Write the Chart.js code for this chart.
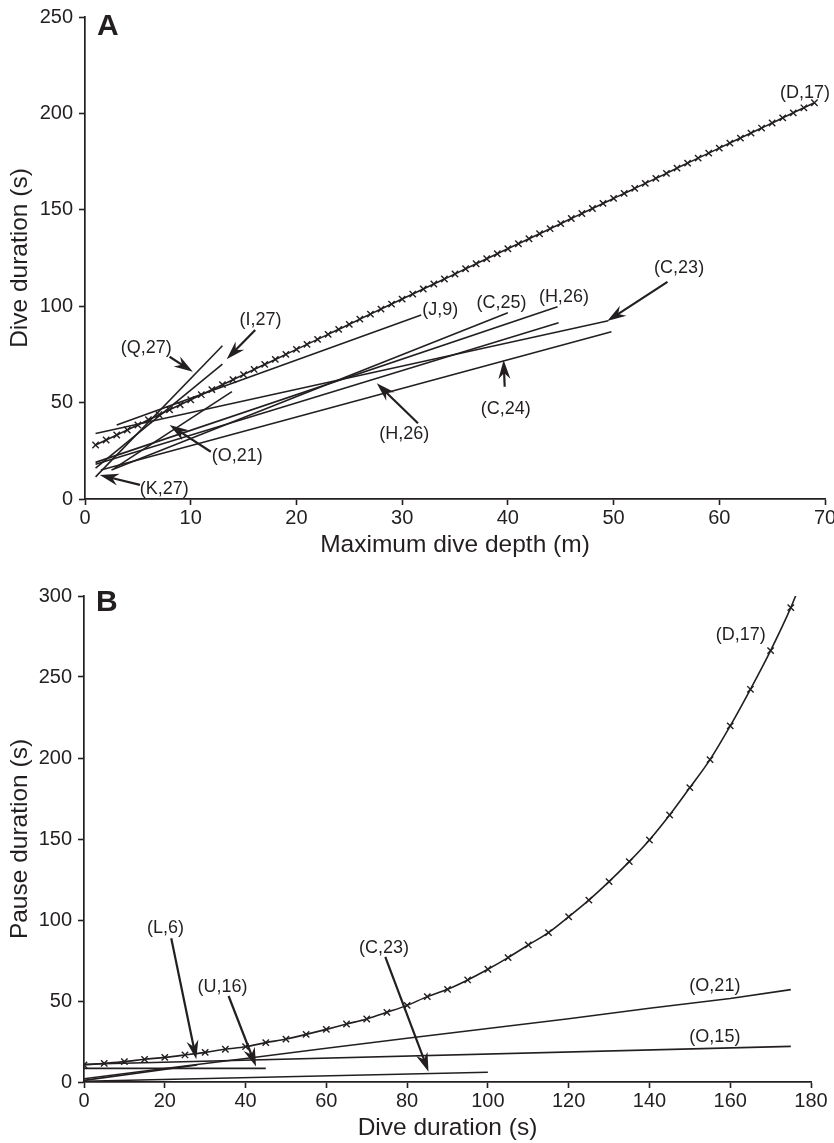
<!DOCTYPE html>
<html>
<head>
<meta charset="utf-8">
<script src="https://cdn.jsdelivr.net/npm/chart.js@4.4.0/dist/chart.umd.min.js"></script>
<style>
  body { margin: 0; background: #fff; }
  #wrapA { position: absolute; left: 0; top: 0; }
  #wrapB { position: absolute; left: 0; top: 575px; }
</style>
</head>
<body>
<div id="wrapA"><canvas id="chartA" width="834" height="560"></canvas></div>
<div id="wrapB"><canvas id="chartB" width="834" height="568"></canvas></div>
<script>
const ink = "#231f20";
const FONT = "'Liberation Sans', Arial, Helvetica, sans-serif";

// ---- Panel A: dive duration vs maximum dive depth ----
const depthD17 = [1, 2, 3, 4, 5, 6, 7, 8, 9, 10, 11, 12, 13, 14, 15, 16, 17, 18, 19, 20,
  21, 22, 23, 24, 25, 26, 27, 28, 29, 30, 31, 32, 33, 34, 35, 36, 37, 38, 39, 40,
  41, 42, 43, 44, 45, 46, 47, 48, 49, 50, 51, 52, 53, 54, 55, 56, 57, 58, 59, 60,
  61, 62, 63, 64, 65, 66, 67, 68, 69];
const durD17 = [28.0, 30.6, 33.2, 35.8, 38.4, 41.1, 43.7, 46.3, 48.9, 51.5, 54.1, 56.7, 59.3, 61.9,
  64.5, 67.2, 69.8, 72.4, 75.0, 77.6, 80.2, 82.8, 85.4, 88.0, 90.6, 93.3, 95.9, 98.5, 101.1,
  103.7, 106.3, 108.9, 111.5, 114.1, 116.7, 119.4, 122.0, 124.6, 127.2, 129.8, 132.4, 135.0,
  137.6, 140.2, 142.8, 145.5, 148.1, 150.7, 153.3, 155.9, 158.5, 161.1, 163.7, 166.3, 168.9,
  171.6, 174.2, 176.8, 179.4, 182.0, 184.6, 187.2, 189.8, 192.4, 195.0, 197.7, 200.3, 202.9, 205.5];

const depthJ9 = [3, 31.8];    const durJ9 = [38.4, 95.4];
const depthC23 = [1, 49.5];   const durC23 = [34, 92.5];
const depthC25 = [2.5, 40];   const durC25 = [15, 96.6];
const depthH26a = [1, 44.7];  const durH26a = [19, 99.7];
const depthH26b = [1, 44.8];  const durH26b = [18, 91.4];
const depthC24 = [1.5, 49.8]; const durC24 = [15, 86.8];
const depthQ27 = [1, 13];     const durQ27 = [11.5, 79.5];
const depthI27 = [1, 13];     const durI27 = [16, 70];
const depthO21 = [2.8, 13.9]; const durO21 = [16, 55.7];

const labelsA = [
  ["(D,17)", 68.1, 210.8], ["(I,27)", 16.6, 92.8], ["(Q,27)", 5.8, 78.2],
  ["(J,9)", 33.6, 98], ["(C,25)", 39.4, 101.9], ["(H,26)", 45.3, 104.9],
  ["(C,23)", 56.2, 119.8], ["(C,24)", 39.8, 46.7], ["(H,26)", 30.2, 33.7],
  ["(O,21)", 14.4, 22.3], ["(K,27)", 7.5, 5.2]
];
const arrowsA = [
  [16.1, 87.7, 13.4, 72.5], [8.0, 73.8, 10.2, 66], [55.1, 112.6, 49.4, 92.3],
  [39.7, 58.2, 39.6, 72.1], [31.5, 39.3, 27.6, 60], [11.9, 24.5, 8.0, 38.4],
  [5.2, 7.3, 1.4, 12.4]
];

// ---- Panel B: pause duration vs dive duration ----
const diveD17 = [0, 5, 10, 15, 20, 25, 30, 35, 40, 45, 50, 55, 60, 65, 70, 75, 80, 85, 90,
  95, 100, 105, 110, 115, 120, 125, 130, 135, 140, 145, 150, 155, 160, 165, 170, 175, 176.5];
const pauseD17 = [10.5, 11.5, 12.6, 14, 15.2, 16.7, 18.3, 20.2, 21.8, 24.3, 26.5, 29.4, 32.5,
  35.8, 38.9, 43, 47.3, 52.7, 57.2, 63, 69.6, 76.8, 84.6, 92.2, 102, 112.3, 123.7, 136, 149.4,
  164.8, 181.7, 199, 219.8, 242.4, 266.3, 292.8, 302];

const diveO21 = [0, 20, 40, 60, 80, 100, 120, 140, 160, 175];
const pauseO21 = [2, 8.3, 14.5, 20.8, 27, 33, 39, 45.5, 51.5, 57];
const diveO15 = [0, 175];  const pauseO15 = [11, 22];
const diveC23 = [0, 100];  const pauseC23 = [0.5, 6];
const diveU16 = [0, 45];   const pauseU16 = [8.4, 8.4];
const diveL6 = [0, 28];    const pauseL6 = [1, 10.5];

const labelsB = [
  ["(D,17)", 162.6, 275.9], ["(L,6)", 20.2, 94.9], ["(U,16)", 34.3, 58.8],
  ["(C,23)", 74.3, 82.7], ["(O,21)", 156.2, 59.3], ["(O,15)", 156.2, 27.8]
];
const arrowsB = [
  [21.6, 88.7, 27.8, 14], [35.8, 53.1, 42.6, 9.5], [74.6, 77.3, 85.3, 6.4]
];

function pts(xs, ys) {
  return xs.map((v, i) => ({ x: v, y: ys[i] }));
}

function plainLine(xs, ys) {
  return {
    data: pts(xs, ys), showLine: true, borderColor: ink, borderWidth: 1.6,
    pointRadius: 0, fill: false
  };
}

function markedLine(xs, ys, lastPlain, r0) {
  const r = xs.map((v, i) => (lastPlain && i === xs.length - 1 ? 0 : r0));
  return {
    data: pts(xs, ys), showLine: true, borderColor: ink, borderWidth: 1.6,
    pointStyle: "crossRot", pointRadius: r, pointBorderColor: ink,
    pointBorderWidth: 1.4, pointHoverRadius: 0, cubicInterpolationMode: "monotone"
  };
}

function axis(min, max, step, title, isY, size) {
  return {
    type: "linear", min: min, max: max,
    ticks: {
      stepSize: step, color: ink, font: { family: FONT, size: 20 },
      padding: isY ? 6 : 1, maxRotation: 0, autoSkip: false
    },
    grid: {
      display: true, drawOnChartArea: false, drawTicks: true,
      tickLength: 6, tickWidth: 1.6, tickColor: ink
    },
    border: { display: true, color: ink, width: 1.7 },
    title: {
      display: true, text: title, color: ink, font: { family: FONT, size: 24.5 },
      padding: isY ? { top: 6, bottom: 0 } : { top: 0, bottom: 0 }
    },
    afterFit(scale) {
      if (isY) scale.width = size; else scale.height = size;
      scale.paddingLeft = 0; scale.paddingRight = 0;
      scale.paddingTop = 0; scale.paddingBottom = 0;
    }
  };
}

function drawArrow(ctx, x1, y1, x2, y2) {
  const ang = Math.atan2(y2 - y1, x2 - x1);
  const c = Math.cos(ang), s = Math.sin(ang);
  const len = 19, half = 6;
  ctx.lineWidth = 2.2;
  ctx.beginPath();
  ctx.moveTo(x1, y1);
  ctx.lineTo(x2 - len * 0.6 * c, y2 - len * 0.6 * s);
  ctx.stroke();
  const bx = x2 - len * c, by = y2 - len * s;
  ctx.beginPath();
  ctx.moveTo(x2, y2);
  ctx.lineTo(bx - s * half, by + c * half);
  ctx.lineTo(x2 - len * 0.68 * c, y2 - len * 0.68 * s);
  ctx.lineTo(bx + s * half, by - c * half);
  ctx.closePath();
  ctx.fill();
}

function notes(labels, arrows, letter, letterDy) {
  return {
    id: "notes" + letter,
    afterDatasetsDraw(chart) {
      const { ctx, chartArea } = chart;
      const x = chart.scales.x, y = chart.scales.y;
      ctx.save();
      ctx.fillStyle = ink;
      ctx.strokeStyle = ink;
      arrows.forEach((a) => drawArrow(ctx,
        x.getPixelForValue(a[0]), y.getPixelForValue(a[1]),
        x.getPixelForValue(a[2]), y.getPixelForValue(a[3])));
      ctx.font = "18px " + FONT;
      ctx.textAlign = "center";
      ctx.textBaseline = "middle";
      labels.forEach((l) => ctx.fillText(l[0], x.getPixelForValue(l[1]), y.getPixelForValue(l[2])));
      ctx.font = "bold 30px " + FONT;
      ctx.textAlign = "left";
      ctx.textBaseline = "alphabetic";
      ctx.fillText(letter, chartArea.left + 12, chartArea.top + letterDy);
      ctx.restore();
    }
  };
}

const common = {
  responsive: false, animation: false, events: [],
  plugins: { legend: { display: false }, tooltip: { enabled: false } }
};

new Chart(document.getElementById("chartA"), {
  type: "scatter",
  data: {
    datasets: [
      markedLine(depthD17, durD17, false, 4.5),
      plainLine(depthJ9, durJ9), plainLine(depthC23, durC23), plainLine(depthC25, durC25),
      plainLine(depthH26a, durH26a), plainLine(depthH26b, durH26b), plainLine(depthC24, durC24),
      plainLine(depthQ27, durQ27), plainLine(depthI27, durI27), plainLine(depthO21, durO21)
    ]
  },
  options: Object.assign({}, common, {
    layout: { padding: { top: 17, right: 9, left: 0, bottom: 0 } },
    scales: {
      x: axis(0, 70, 10, "Maximum dive depth (m)", false, 61),
      y: axis(0, 250, 50, "Dive duration (s)", true, 85)
    }
  }),
  plugins: [notes(labelsA, arrowsA, "A", 18)]
});

new Chart(document.getElementById("chartB"), {
  type: "scatter",
  data: {
    datasets: [
      markedLine(diveD17, pauseD17, true, 4.5),
      plainLine(diveO21, pauseO21), plainLine(diveO15, pauseO15), plainLine(diveC23, pauseC23),
      plainLine(diveU16, pauseU16), plainLine(diveL6, pauseL6)
    ]
  },
  options: Object.assign({}, common, {
    layout: { padding: { top: 21, right: 23, left: 0, bottom: 0 } },
    scales: {
      x: axis(0, 180, 20, "Dive duration (s)", false, 61),
      y: axis(0, 300, 50, "Pause duration (s)", true, 84)
    }
  }),
  plugins: [notes(labelsB, arrowsB, "B", 15)]
});
</script>
</body>
</html>
